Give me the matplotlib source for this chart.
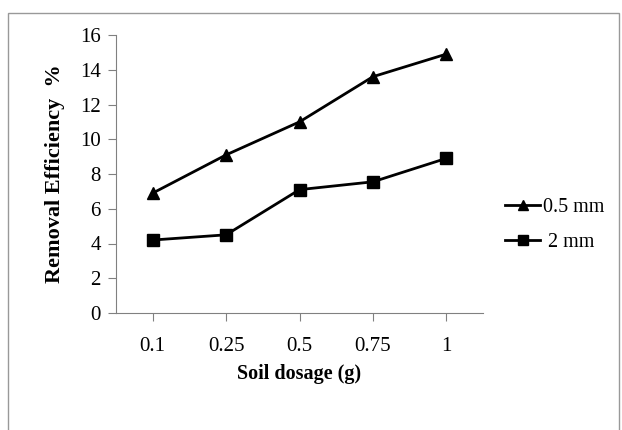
import numpy as np
import matplotlib.pyplot as plt
from matplotlib.patches import Rectangle

plt.rcParams['font.family'] = ['Liberation Serif', 'DejaVu Serif']

dosage = ['0.1', '0.25', '0.5', '0.75', '1']
eff_05mm = [6.9, 9.1, 11.0, 13.6, 14.9]
eff_2mm = [4.2, 4.5, 7.1, 7.55, 8.9]

W, H = 622, 430
fig = plt.figure(figsize=(W/100, H/100), dpi=100)
ax = fig.add_axes([116/W, 1-313/H, (483-116)/W, (313-35)/H])

x = np.arange(len(dosage))
ax.plot(x, eff_05mm, color='black', lw=2, marker='^', ms=9, label='0.5 mm')
ax.plot(x, eff_2mm, color='black', lw=2, marker='s', ms=9, label=' 2 mm')

ax.set_xlim(-0.5, len(dosage) - 0.5)
ax.set_ylim(0, 16)
ax.set_yticks(range(0, 17, 2))
ax.set_xticks(x)
ax.set_xticklabels(dosage)
ax.tick_params(labelsize=15, length=6, color='#808080', pad=5)
ax.tick_params(axis='x', pad=11)
for s in ['top', 'right']:
    ax.spines[s].set_visible(False)
for s in ['left', 'bottom']:
    ax.spines[s].set_color('#808080')

ax.set_xlabel('Soil dosage (g)', fontsize=14.5, fontweight='bold', labelpad=6)
ax.set_ylabel('Removal Efficiency  %', fontsize=16, fontweight='bold', labelpad=11)

ax.legend(loc='center left', bbox_to_anchor=(505/W, 1-225/H), bbox_transform=fig.transFigure,
          frameon=False, fontsize=14.5, handlelength=1.75, handletextpad=0.15,
          labelspacing=0.8, borderpad=0, borderaxespad=0, markerscale=0.8)

fig.add_artist(Rectangle((8/W, -0.01), (619-8)/W, (H-13)/H + 0.01,
                         transform=fig.transFigure, fill=False, edgecolor='#999999', lw=1))

fig.savefig('out.png', dpi=100)
